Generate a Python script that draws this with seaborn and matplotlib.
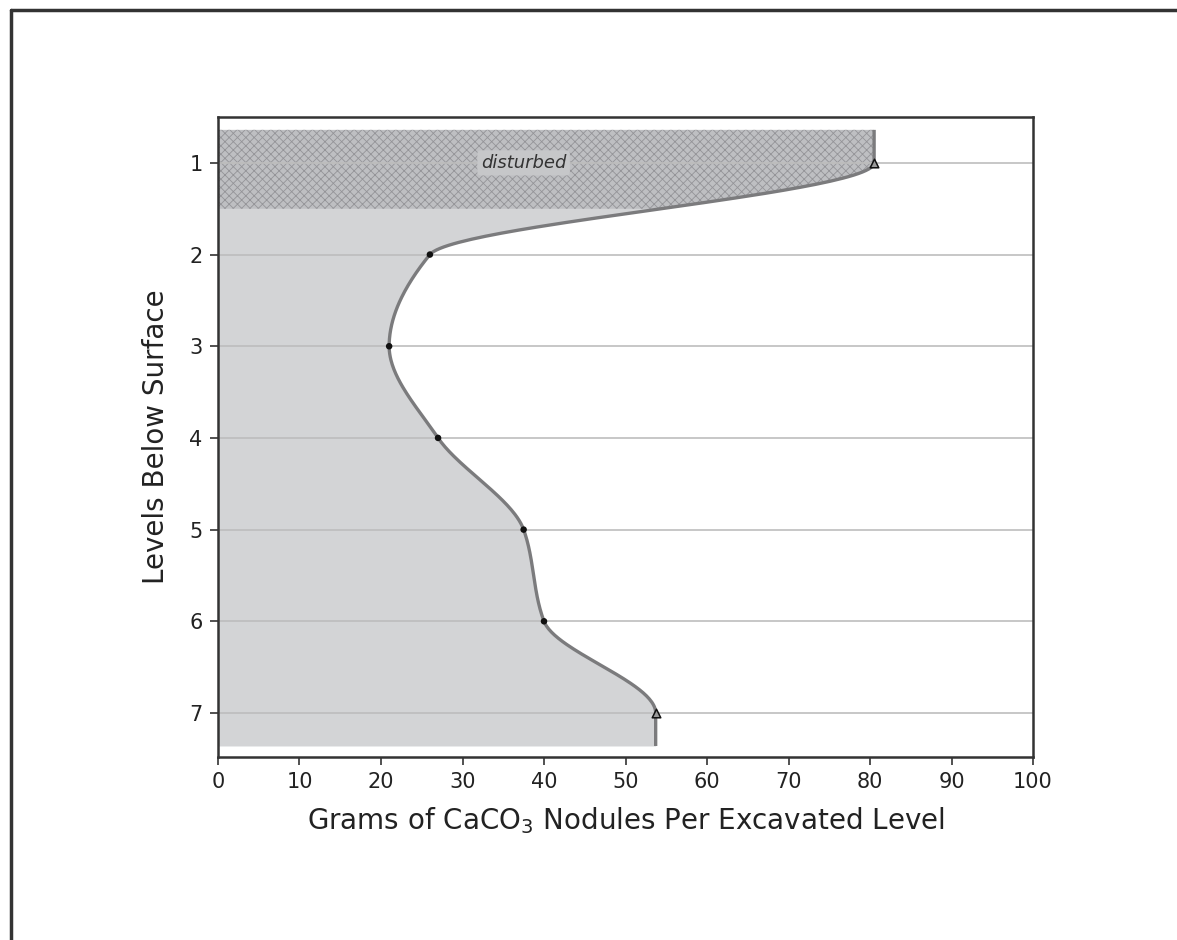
import numpy as np
import pandas as pd
import matplotlib
matplotlib.use("Agg")
import matplotlib.pyplot as plt
from matplotlib.lines import Line2D
import seaborn as sns

# values
levels = [1, 2, 3, 4, 5, 6, 7]
grams = [80.5, 26.0, 21.0, 27.0, 37.5, 40.0, 53.7]
end_marker = ["triangle", "dot", "dot", "dot", "dot", "dot", "triangle"]
fill_top = 0.64        # top of the shaded column (level units)
fill_bottom = 7.36     # bottom of the shaded column
disturbed_to = 1.5     # hatched "disturbed" zone ends here
x_ticks = [0, 10, 20, 30, 40, 50, 60, 70, 80, 90, 100]

df = pd.DataFrame({"level": levels, "grams": grams, "kind": end_marker})


def smooth_profile(y, x, n=60):
    """monotone cubic (pchip-like) x(y), flat at both ends"""
    y = np.asarray(y, float)
    x = np.asarray(x, float)
    h = np.diff(y)
    d = np.diff(x) / h
    m = np.zeros_like(x)
    for i in range(1, len(x) - 1):
        if d[i - 1] * d[i] > 0:
            m[i] = 2.0 / (1.0 / d[i - 1] + 1.0 / d[i])
    ys, xs = [], []
    for i in range(len(x) - 1):
        t = np.linspace(0, 1, n, endpoint=(i == len(x) - 2))
        h00 = 2 * t**3 - 3 * t**2 + 1
        h10 = t**3 - 2 * t**2 + t
        h01 = -2 * t**3 + 3 * t**2
        h11 = t**3 - t**2
        xs.append(h00 * x[i] + h10 * h[i] * m[i] + h01 * x[i + 1] + h11 * h[i] * m[i + 1])
        ys.append(y[i] + t * h[i])
    return np.concatenate(ys), np.concatenate(xs)


yy, xx = smooth_profile(df["level"], df["grams"])
# vertical stubs at both ends of the column
yy = np.concatenate([[fill_top], yy, [fill_bottom]])
xx = np.concatenate([[xx[0]], xx, [xx[-1]]])

sns.set_style("white")
plt.rcParams["font.family"] = ["DejaVu Sans"]
plt.rcParams["hatch.linewidth"] = 0.6
plt.rcParams["hatch.color"] = "#949498"

fig = plt.figure(figsize=(11.77, 9.4), dpi=100)
ax = fig.add_axes([0.1852, 0.1947, 0.6925, 0.6808])

# shaded column and hatched disturbed zone
ax.fill_betweenx(yy, 0, xx, color="#d3d4d6", lw=0, zorder=1)
top = yy <= disturbed_to
ax.fill_betweenx(yy[top], 0, xx[top], facecolor="#bebfc2", edgecolor="#949498",
                 hatch="xxxx", lw=0, zorder=1.5)

# level lines
for lv in levels:
    ax.axhline(lv, color="#bdbdbd", lw=1.2, zorder=2)

ax.plot(xx, yy, color="#7b7b7d", lw=2.4, zorder=3, solid_capstyle="butt")

sns.scatterplot(data=df[df["kind"] == "dot"], x="grams", y="level", ax=ax,
                color="#111111", s=22, edgecolor="none", zorder=4, legend=False)
sns.scatterplot(data=df[df["kind"] == "triangle"], x="grams", y="level", ax=ax,
                marker="^", color="#9a9a9a", s=38, edgecolor="#111111",
                linewidth=1.1, zorder=4, legend=False)

ax.text(37.5, 1.0, "disturbed", ha="center", va="center", fontsize=13,
        style="italic", color="#333333", zorder=5,
        bbox=dict(boxstyle="round,pad=0.2", fc="#c6c7c9", ec="none"))

ax.set_xlim(0, 100)
ax.set_ylim(7.48, 0.5)
ax.set_xticks(x_ticks)
ax.set_yticks(levels)
ax.tick_params(axis="both", direction="out", length=6, width=1.2,
               color="#333333", labelsize=15, labelcolor="#222222", pad=5)
ax.tick_params(left=True, bottom=True)
for sp in ax.spines.values():
    sp.set_color("#333333")
    sp.set_linewidth(1.8)

ax.set_xlabel("Grams of CaCO$_3$ Nodules Per Excavated Level", fontsize=20,
              color="#222222", labelpad=9)
ax.set_ylabel("Levels Below Surface", fontsize=20, color="#222222", labelpad=14)

# page frame (left and top edges)
fig.add_artist(Line2D([11 / 1177, 11 / 1177], [0, 1 - 10 / 940],
                      transform=fig.transFigure, color="#333333", lw=2.5))
fig.add_artist(Line2D([11 / 1177, 1], [1 - 10 / 940, 1 - 10 / 940],
                      transform=fig.transFigure, color="#333333", lw=2.5))

fig.savefig("out.png", dpi=100)
